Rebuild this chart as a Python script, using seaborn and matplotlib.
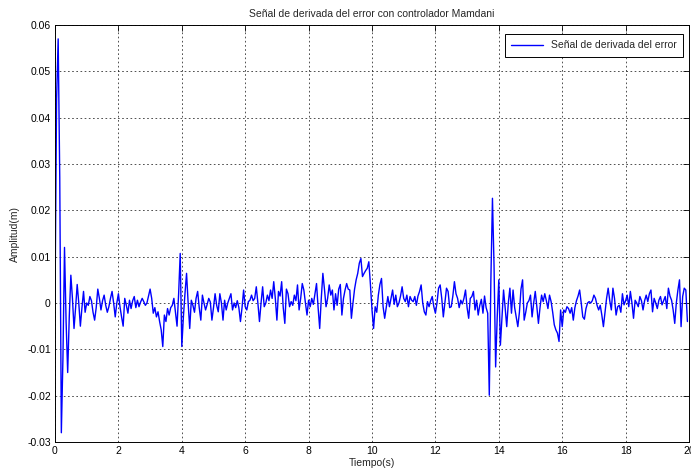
import numpy as np
import pandas as pd
import matplotlib
matplotlib.use("Agg")
import matplotlib.pyplot as plt
from matplotlib.ticker import FuncFormatter
import seaborn as sns

# Sample spacing of the logged signal (s)
paso = 0.05

# Derivative-of-error signal, in thousandths of the amplitude unit, one value per sample
derivada_0_5 = [
    0, 44, 57, 27, -28, -12, 12, -4, -15, -3,
    6, 1, -5.5, -1, 4, 0, -5, -1, 2.5, -2,
    0, -0.5, 1.4, 0.5, -2, -3.7, -1, 3, 1, -1.5,
    0.5, 1.7, -0.5, -2, -0.8, 1, 2.5, 0, -3, 0,
    2, -0.8, -3, -5, 1, -0.5, -2.2, 0.6, -1.2, 0.5,
    1.4, -1, 0.6, -0.8, 0.2, 1, 0.3, -0.5, 0, 1.5,
    3, 1, -2.2, -1, -3, -1.9, -4, -5.8, -9.4, -2.6,
    -4, -1.2, -2.6, -1, -0.5, 1, -2, -5, 2, 10.7,
    -9.4, -3, 2, 6.4, 0, -5.5, 0.6, -0.5, -2, 1,
    2.5, -1, -3.7, 1.7, 0, -1.5, -0.3, 1, 0.2, -3.7,
]
derivada_5_10 = [
    -1, 2, -0.5, -1.9, 2, 0, -3.7, 0.6, -1.5, 0,
    1, 2, -1.5, 0, -1, 0.5, -1, -4, -1, 2.8,
    -0.8, -1.5, 0.3, 0.6, 1.7, 0.5, 1, 3.5, 0, -4,
    0, 3.5, -0.8, 0, 1.7, 0.5, 2.8, 1, 4.6, 1,
    -3.7, 2.5, 1.5, 4.6, -1, -4.4, 3, 2, -0.8, 0.3,
    -0.5, 1.7, 0.5, 3.9, -1.5, 1, 4.2, 2.8, 0, -2.6,
    0.6, -0.8, 1, -0.3, 2, 4.2, -1, -5.5, 1, 6.4,
    3, -0.8, 1, 3.9, 1.7, 2.8, -1.5, 2, -0.5, 3,
    4, -2.6, 1, 2.8, 4.2, 3, 2.8, -3.3, 0, 3,
    5, 6.4, 8.6, 9.6, 5.7, 6.4, 7, 7.5, 8.9, 4,
]
derivada_10_15 = [
    -1.5, -5.5, -0.8, -2, 1.7, 4, 5.3, -0.8, -3.3, -1,
    1.4, -0.8, 1, 2.8, -0.3, 1.7, -0.8, 0, 1.5, 3.5,
    1, 0.3, 1.7, -0.8, 1.4, 0.6, 0.3, 1.4, -0.5, 1.5,
    2.5, 3.9, 0, -1.9, -2.6, 0.3, -0.8, 0.5, 1.4, -0.8,
    -2.2, 0, 3.2, 3.9, 1, -3, 0, 3.2, 2.5, -1,
    -0.8, 1.5, 4.6, 2, 1, -1, 0.6, -0.2, 1, 2.8,
    -1, -3.3, 1, 1.4, 2.5, -1.5, 0.6, -2.6, -0.5, 0.8,
    -2.2, 1.5, -1, -2.2, -19.9, 5, 22.6, 8, -13.8, -3,
    5, -9.1, -3, 2.8, -1, -5.1, 0, 3.2, -2.2, 2.8,
    -1, -3, -5.1, -2, 3, 5, -3.7, -2, 0, 0.5,
]
derivada_15_20 = [
    1.7, -3, 0, 2.5, -0.8, -4.4, -1, 1.7, 0.3, 2,
    0.5, -1.2, 1.7, 0.3, -2, -4.7, -5.8, -6.5, -8.3, -1.5,
    -5.1, -1.5, -2, -0.8, -1.2, -2.2, -1, -3.7, -1, 0.5,
    1.5, 2.8, 0, -3, -3.5, -1.2, 0, 0.3, 0, 0.5,
    1.7, 1, -0.5, -1.5, -0.5, -2.6, -5.1, -2, 1, 3.2,
    0.5, -1.5, 3.2, 1, -2.6, -0.8, -0.5, -2, 2, -0.4,
    0.5, 1.7, -0.8, 2.5, 0, -3.3, 0.6, 0, -0.8, 1.4,
    0.5, -1.5, 0.5, 1.7, 0.3, 2, 2.8, -1.9, 1, 0,
    -1.2, 0.6, 1.4, -0.4, 0.5, 1.4, -1.2, 3.2, 1.5, 0.6,
    -1.5, -4.4, 0, 2.8, 5, -5.1, 1.4, 3.2, 2.8, -4,
]

serie = "Señal de derivada del error"
titulo = "Señal de derivada del error con controlador Mamdani"
etiqueta_x = "Tiempo(s)"
etiqueta_y = "Amplitud(m)"
ticks_x = list(range(0, 21, 2))
ticks_y = [-0.03, -0.02, -0.01, 0, 0.01, 0.02, 0.03, 0.04, 0.05, 0.06]

valores = np.array(derivada_0_5 + derivada_5_10 + derivada_10_15 + derivada_15_20) / 1000.0
tiempo = np.arange(len(valores)) * paso
df = pd.DataFrame({"t": tiempo, "v": valores})

sns.set_style("white")
plt.rcParams["font.family"] = ["Liberation Sans", "DejaVu Sans"]

fig = plt.figure(figsize=(6.91, 4.71), dpi=100)
ax = fig.add_axes([55 / 691, 1 - 442 / 471, 634 / 691, 417 / 471])

sns.lineplot(data=df, x="t", y="v", ax=ax, color="#0000ff", linewidth=1.0,
             label=serie, estimator=None, sort=False)

ax.set_xlim(0, 20)
ax.set_ylim(-0.03, 0.06)
ax.set_xticks(ticks_x)
ax.set_yticks(ticks_y)
ax.yaxis.set_major_formatter(FuncFormatter(lambda v, p: f"{v:g}"))
ax.grid(True, color="black", linestyle=(0, (2, 3)), linewidth=0.6, alpha=0.8)
ax.tick_params(direction="in", length=4, width=0.6, top=True, right=True,
               labelsize=7.5, colors="black", pad=3)
for s in ax.spines.values():
    s.set_color("black")
    s.set_linewidth(0.7)

ax.set_title(titulo, fontsize=7.5, pad=6)
ax.set_xlabel(etiqueta_x, fontsize=7.5, labelpad=1)
ax.set_ylabel(etiqueta_y, fontsize=7.5, labelpad=5)

leg = ax.legend(loc="upper right", bbox_to_anchor=(0.9905, 0.978), borderaxespad=0,
                fontsize=7.5, frameon=True, fancybox=False,
                handlelength=3.0, borderpad=0.6)
leg.get_frame().set_edgecolor("black")
leg.get_frame().set_linewidth(0.7)
leg.get_frame().set_alpha(1)

fig.savefig("out.png", dpi=100, facecolor="white")
